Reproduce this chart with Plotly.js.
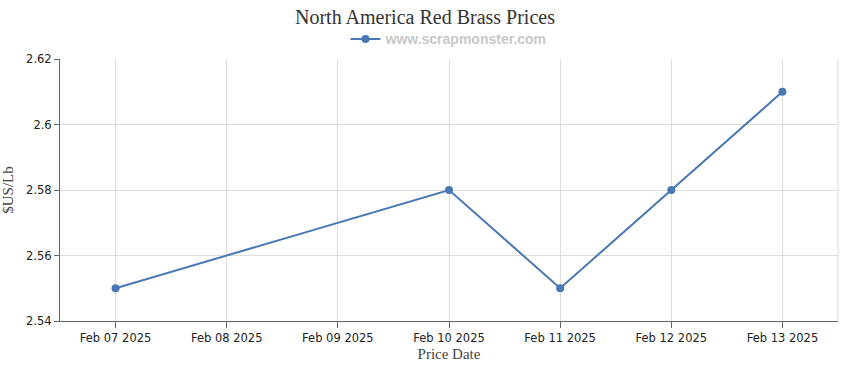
<!DOCTYPE html>
<html><head><meta charset="utf-8">
<script src="https://cdn.plot.ly/plotly-3.0.1.min.js"></script>
<style>html,body{margin:0;padding:0;background:#fff}#chart{width:850px;height:370px}</style>
</head><body><div id="chart"></div>
<script>
var dates = ["Feb 07 2025","Feb 08 2025","Feb 09 2025","Feb 10 2025","Feb 11 2025","Feb 12 2025","Feb 13 2025"];
var prices = [2.55, null, null, 2.58, 2.55, 2.58, 2.61];
var yTicks = [2.54, 2.56, 2.58, 2.6, 2.62];
var yTickLabels = ["2.54", "2.56", "2.58", "2.6", "2.62"];

var trace = {
  x: dates, y: prices, type: "scatter", mode: "lines+markers",
  name: "www.scrapmonster.com", connectgaps: true,
  line: {color: "#4a78b5", width: 2},
  marker: {color: "#4a78b5", size: 8}
};
var layout = {
  width: 850, height: 370,
  margin: {l: 60, r: 12, t: 59, b: 49},
  paper_bgcolor: "#fff", plot_bgcolor: "#fff",
  title: {text: "North America Red Brass Prices", x: 0.5, xanchor: "center", y: 0.953, yanchor: "middle",
    font: {family: "Liberation Serif, serif", size: 20, color: "#333"}},
  showlegend: true,
  legend: {orientation: "h", x: 0.5, xanchor: "center", y: 1.075, yanchor: "middle", itemwidth: 30,
    font: {family: "Liberation Sans, Arial, sans-serif", size: 14, color: "#c8c8c8", weight: "bold"}},
  xaxis: {type: "category", categoryarray: dates, range: [-0.5, 6.5],
    showgrid: true, gridcolor: "#dddddd", showline: true, linecolor: "#666", linewidth: 1,
    ticks: "outside", ticklen: 6, tickcolor: "#666",
    tickfont: {family: "DejaVu Sans, sans-serif", size: 11.5, color: "#222"},
    title: {text: "Price Date", standoff: 4, font: {family: "Liberation Serif, serif", size: 15, color: "#444"}},
    zeroline: false, fixedrange: true},
  yaxis: {range: [2.54, 2.62], tickvals: yTicks, ticktext: yTickLabels,
    showgrid: true, gridcolor: "#dddddd", showline: true, linecolor: "#666", linewidth: 1,
    ticks: "outside", ticklen: 5, tickcolor: "#666",
    tickfont: {family: "DejaVu Sans, sans-serif", size: 11.5, color: "#222"},
    title: {text: "$US/Lb", standoff: 10, font: {family: "Liberation Serif, serif", size: 15, color: "#444"}},
    zeroline: false, fixedrange: true},
  shapes: [{type: "line", xref: "paper", yref: "paper", x0: 1, x1: 1, y0: 0, y1: 1,
    line: {color: "#dddddd", width: 1}}]
};
Plotly.newPlot("chart", [trace], layout, {displayModeBar: false, staticPlot: true});
</script></body></html>
